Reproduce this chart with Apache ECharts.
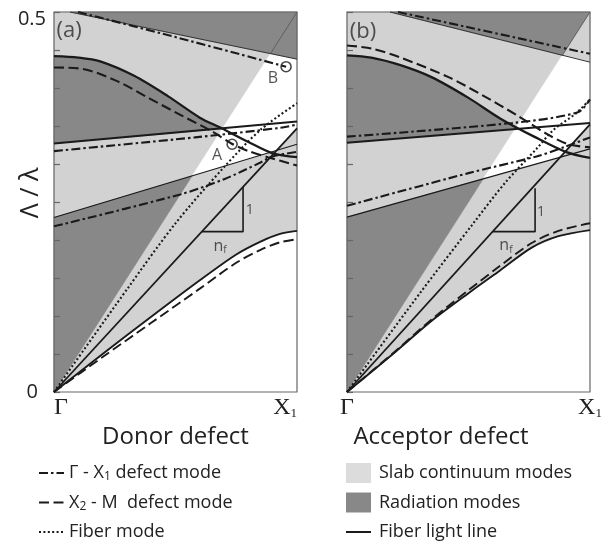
<!DOCTYPE html>
<html><head><meta charset="utf-8">
<script src="https://cdn.jsdelivr.net/npm/echarts@6/dist/echarts.min.js"></script>
<style>html,body{margin:0;padding:0;background:#fff}#c{width:611px;height:548px}</style>
</head><body><div id="c"></div>
<script>
// ---------- labels ----------
const xTickLabels = ['Γ', 'X{s|1}'];
const yTickLabels = ['0', '0.5'];
const panelNames = ['Donor defect', 'Acceptor defect'];
const yName = 'Λ / λ';

// ---------- panel (a): donor defect ----------
const aAirTop = [[0.8905, 0.445], [1, 0.5]];
const aFiberLight = [[0, 0], [1, 0.347]];
const aL1 = [[0, 0.2296], [1, 0.326]];
const aL2 = [[0, 0.327], [1, 0.356]];
const aTopBound = [[0.066, 0.5], [1, 0.438]];
const aSSolid = [[0, 0.442], [0.1, 0.44], [0.19, 0.435], [0.33, 0.416], [0.47, 0.389], [0.6, 0.361], [0.69, 0.347], [0.8, 0.329], [0.9, 0.314], [1, 0.309]];
const aSDash = [[0, 0.427], [0.12, 0.425], [0.26, 0.409], [0.4, 0.385], [0.53, 0.363], [0.65, 0.343], [0.73, 0.327], [0.8, 0.317], [0.88, 0.309], [1, 0.298]];
const aDDTop = [[0.099, 0.5], [0.5, 0.467], [0.955, 0.428]];
const aDDMid = [[0, 0.317], [0.58, 0.335], [0.94, 0.348], [1, 0.352]];
const aDDLow = [[0, 0.218], [0.52, 0.26], [0.7, 0.28], [0.85, 0.302], [0.9, 0.31], [1, 0.316]];
const aFiberMode = [[0, 0], [0.3, 0.135], [0.5, 0.222], [0.7, 0.296], [0.85, 0.345], [1, 0.38]];
const aLowSolid = [[0, 0], [0.2, 0.05], [0.4, 0.099], [0.6, 0.147], [0.75, 0.181], [0.85, 0.198], [0.93, 0.208], [1, 0.212]];
const aLowDash = [[0, 0], [0.2, 0.046], [0.4, 0.091], [0.6, 0.136], [0.75, 0.17], [0.85, 0.187], [0.93, 0.197], [1, 0.201]];
const aTriangle = [[0.609, 0.211], [0.778, 0.211], [0.778, 0.27]];
const aCircles = [[0.733, 0.326], [0.955, 0.428]];
const aGap = [[0.569, 0.2846], [0.8905, 0.445], [1, 0.438], [1, 0.347], [0.9162, 0.3179]];
const aDarkTop = [[0.066, 0.5], [1, 0.5], [1, 0.438]];
const aDarkMidEnd = [[0.692, 0.346], [0, 0.327]];
const aDarkLow = [[0, 0], [0.569, 0.2846], [0, 0.2296]];
const aTexts = [['A', 0.671, 0.311], ['B', 0.901, 0.412], ['1', 0.806, 0.240], ['n{f|f}', 0.683, 0.192], ['(a)', 0.062, 0.476]];

// ---------- panel (b): acceptor defect ----------
const bAirTop = [[0.886, 0.443], [1, 0.5]];
const bFiberLight = [[0, 0], [1, 0.352]];
const bL1 = [[0, 0.23], [1, 0.32]];
const bL2 = [[0, 0.328], [1, 0.354]];
const bTopBound = [[0.177, 0.5], [1, 0.434]];
const bSSolid = [[0, 0.443], [0.1, 0.44], [0.22, 0.43], [0.35, 0.414], [0.5, 0.387], [0.63, 0.36], [0.77, 0.336], [0.9, 0.316], [1, 0.308]];
const bSDash = [[0, 0.456], [0.1, 0.452], [0.22, 0.44], [0.42, 0.414], [0.56, 0.39], [0.7, 0.364], [0.82, 0.34], [0.91, 0.326], [1, 0.322]];
const bDDTop = [[0.21, 0.5], [1, 0.445]];
const bDDMid = [[0, 0.336], [0.68, 0.354], [0.95, 0.368], [1, 0.385]];
const bDDLow = [[0, 0.245], [0.5, 0.288], [0.78, 0.31], [0.9, 0.323], [1, 0.335]];
const bFiberMode = [[0, 0], [0.3, 0.13], [0.52, 0.222], [0.65, 0.275], [0.78, 0.32], [0.85, 0.345], [0.94, 0.366], [1, 0.385]];
const bLowSolid = [[0, 0], [0.2, 0.053], [0.35, 0.094], [0.5, 0.13], [0.63, 0.16], [0.76, 0.19], [0.87, 0.205], [1, 0.213]];
const bLowDash = [[0, 0], [0.2, 0.054], [0.35, 0.096], [0.5, 0.134], [0.63, 0.166], [0.76, 0.196], [0.87, 0.212], [1, 0.222]];
const bTriangle = [[0.601, 0.211], [0.774, 0.211], [0.774, 0.268]];
const bGap = [[0.561, 0.2805], [0.886, 0.443], [1, 0.434], [1, 0.352], [0.878, 0.309]];
const bDarkTop = [[0.177, 0.5], [1, 0.5], [0.886, 0.443]];
const bDarkMidEnd = [[0.695, 0.347], [0, 0.328]];
const bDarkLow = [[0, 0], [0.561, 0.2805], [0, 0.23]];
const bTexts = [['1', 0.798, 0.237], ['n{f|f}', 0.654, 0.193], ['(b)', 0.066, 0.474]];

// ---------- styles ----------
const LIGHT = '#d2d2d2', DARK = '#888888', INK = '#1a1a1a';
const DD = [9, 3, 2.5, 3], DASH = [10, 4.5], DOT = [2, 2.4];
const SANS = 'Open Sans', SERIF = 'Liberation Serif';
const N_GX = 'Γ - X1 defect mode', N_XM = 'X2 - M  defect mode', N_FM = 'Fiber mode';
const N_SLAB = 'Slab continuum modes', N_RAD = 'Radiation modes', N_FL = 'Fiber light line';

function poly(name, g, pts, color) {
  return {
    type: 'custom', name, xAxisIndex: g, yAxisIndex: g, silent: true, z: 0,
    itemStyle: { color }, data: [[0, 0]], animation: false,
    renderItem: (params, api) => ({
      type: 'polygon',
      shape: { points: pts.map(p => api.coord(p)) },
      style: { fill: color, stroke: color, lineWidth: 0.6 }
    })
  };
}
function line(name, g, pts, w, type, smooth, color) {
  return {
    type: 'line', name, xAxisIndex: g, yAxisIndex: g, data: pts, symbol: 'none',
    smooth: smooth || false, silent: true, z: 3, animation: false,
    lineStyle: { color: color || INK, width: w, type: type || 'solid' },
    itemStyle: { color: color || INK }
  };
}
function texts(g, list) {
  return {
    type: 'scatter', name: 'txt' + g, xAxisIndex: g, yAxisIndex: g, symbolSize: 1, z: 4,
    itemStyle: { color: 'rgba(0,0,0,0)' }, silent: true, animation: false,
    data: list.map(t => ({
      value: [t[1], t[2]],
      label: {
        show: true, position: 'inside', formatter: t[0], color: '#2a2a2a',
        fontFamily: SANS, fontSize: t[0].startsWith('(') ? 22 : (t[0] === '1' ? 14 : 16),
        rich: { f: { fontSize: 10, fontFamily: SANS, color: '#2a2a2a', padding: [9, 0, 0, 0] } }
      }
    }))
  };
}

const P = [
  { air: aAirTop, fl: aFiberLight, l1: aL1, l2: aL2, tb: aTopBound, ss: aSSolid, sd: aSDash,
    dd: [aDDTop, aDDMid, aDDLow], fm: aFiberMode, ls: aLowSolid, ld: aLowDash, tri: aTriangle,
    gap: aGap, dt: aDarkTop, dmEnd: aDarkMidEnd, dl: aDarkLow, tx: aTexts, cut: 0.6 },
  { air: bAirTop, fl: bFiberLight, l1: bL1, l2: bL2, tb: bTopBound, ss: bSSolid, sd: bSDash,
    dd: [bDDTop, bDDMid, bDDLow], fm: bFiberMode, ls: bLowSolid, ld: bLowDash, tri: bTriangle,
    gap: bGap, dt: bDarkTop, dmEnd: bDarkMidEnd, dl: bDarkLow, tx: bTexts, cut: 0.63 }
];

const series = [];
P.forEach((p, g) => {
  series.push(poly(N_SLAB, g, [[0, 0.5], [1, 0.5]].concat(p.ls.slice().reverse()), LIGHT));
  series.push(poly('gap', g, p.gap, '#ffffff'));
  series.push(poly(N_RAD, g, p.dt, DARK));
  series.push(poly(N_RAD, g, p.ss.filter(q => q[0] <= p.cut).concat(p.dmEnd), DARK));
  series.push(poly(N_RAD, g, p.dl, DARK));
  series.push(line('edge', g, p.air, 0.8, 'solid', false, '#555'));
  series.push(line('edge', g, p.tb, 1, 'solid', false, '#333'));
  series.push(line('band', g, p.l1, 1.2));
  series.push(line('band', g, p.l2, 1.9));
  series.push(line('band', g, p.ss, 2.3, 'solid', 0.3));
  series.push(line('band', g, p.ls, 1.9, 'solid', 0.3));
  series.push(line('band', g, p.tri, 1.6));
  series.push(line(N_FL, g, p.fl, 1.8));
  series.push(line(N_XM, g, p.sd, 2.1, DASH, 0.3));
  series.push(line(N_XM, g, p.ld, 1.9, DASH, 0.3));
  p.dd.forEach(d => series.push(line(N_GX, g, d, 2.1, DD, 0.3)));
  series.push(line(N_FM, g, p.fm, 2.1, DOT, 0.3));
  series.push(texts(g, p.tx));
});
series.push({
  type: 'scatter', name: 'circles', xAxisIndex: 0, yAxisIndex: 0, symbol: 'circle', symbolSize: 10, z: 4,
  silent: true, animation: false, data: aCircles,
  itemStyle: { color: 'rgba(0,0,0,0)', borderColor: INK, borderWidth: 1.6 }
});

const subRich = { s: { fontSize: 12, fontFamily: SANS, color: '#222', verticalAlign: 'bottom', lineHeight: 12 } };
const legendFmt = n => n === N_GX ? 'Γ - X{s|1} defect mode' : (n === N_XM ? 'X{s|2} - M  defect mode' : n);

const grids = [
  { left: 54, top: 12, width: 243, height: 380 },
  { left: 347, top: 12, width: 243, height: 380 }
].map(o => Object.assign(o, { show: true, z: 1, borderColor: '#666', borderWidth: 1.2, backgroundColor: 'rgba(0,0,0,0)' }));

const xAxes = [0, 1].map(g => ({
  gridIndex: g, type: 'value', min: 0, max: 1, interval: 1, z: 1,
  axisLine: { show: false }, axisTick: { show: false }, splitLine: { show: false },
  axisLabel: {
    formatter: v => v === 0 ? xTickLabels[0] : xTickLabels[1],
    fontFamily: SERIF, fontSize: 24, color: '#222', margin: 4,
    alignMinLabel: g === 0 ? 'left' : 'center', alignMaxLabel: g === 0 ? 'right' : 'center',
    rich: { s: { fontSize: 13, fontFamily: SERIF, color: '#222', padding: [11, 0, 0, 0] } }
  },
  name: panelNames[g], nameLocation: 'middle', nameGap: 33, nameMoveOverlap: false,
  nameTextStyle: { fontFamily: SANS, fontSize: 24, color: '#222', padding: g === 1 ? [0, 55, 0, 0] : [0, 0, 0, 0] }
}));

const yAxes = [0, 1].map(g => ({
  gridIndex: g, type: 'value', min: 0, max: 0.5, interval: 0.05, z: 1,
  axisLine: { show: false }, splitLine: { show: false },
  axisTick: { show: true, inside: true, length: 6, lineStyle: { color: '#666', width: 1.2 } },
  axisLabel: {
    show: g === 0, fontFamily: SANS, fontSize: 20, color: '#222', margin: 8,
    formatter: v => Math.abs(v) < 1e-9 ? '{z|' + yTickLabels[0] + '}' : (Math.abs(v - 0.5) < 1e-9 ? '{h|' + yTickLabels[1] + '}' : ''),
    rich: { z: { fontFamily: SANS, fontSize: 20, color: '#222', padding: [0, 8, 0, 0] },
            h: { fontFamily: SANS, fontSize: 20, color: '#222', padding: [14, 0, 0, 0] } }
  },
  name: g === 0 ? yName : '', nameLocation: 'middle', nameGap: 11, nameRotate: 90, nameMoveOverlap: false,
  nameTextStyle: { fontFamily: SANS, fontSize: 25, color: '#222', padding: [0, 0, 0, 18] }
}));

const hideSym = { opacity: 0 };
const legendBase = {
  orient: 'vertical', itemWidth: 25, itemHeight: 20, itemGap: 9.5, selectedMode: false,
  formatter: legendFmt, height: 90,
  textStyle: { fontFamily: SANS, fontSize: 18, color: '#222', lineHeight: 20, padding: [0, 0, 0, 0], rich: subRich }
};

const chart = echarts.init(document.getElementById('c'), null, { renderer: 'canvas' });
chart.setOption({
  animation: false,
  backgroundColor: '#ffffff',
  grid: grids, xAxis: xAxes, yAxis: yAxes,
  legend: [
    Object.assign({}, legendBase, { left: 33, top: 458,
      data: [{ name: N_GX, itemStyle: hideSym }, { name: N_XM, itemStyle: hideSym }, { name: N_FM, itemStyle: hideSym }] }),
    Object.assign({}, legendBase, { left: 340, top: 458,
      data: [{ name: N_SLAB, icon: 'rect', itemStyle: { color: '#dcdcdc' } },
             { name: N_RAD, icon: 'rect', itemStyle: { color: DARK } },
             { name: N_FL, itemStyle: hideSym }],
      textStyle: Object.assign({}, legendBase.textStyle, { padding: [0, 0, 0, 3] }) })
  ],
  series
});
</script></body></html>
